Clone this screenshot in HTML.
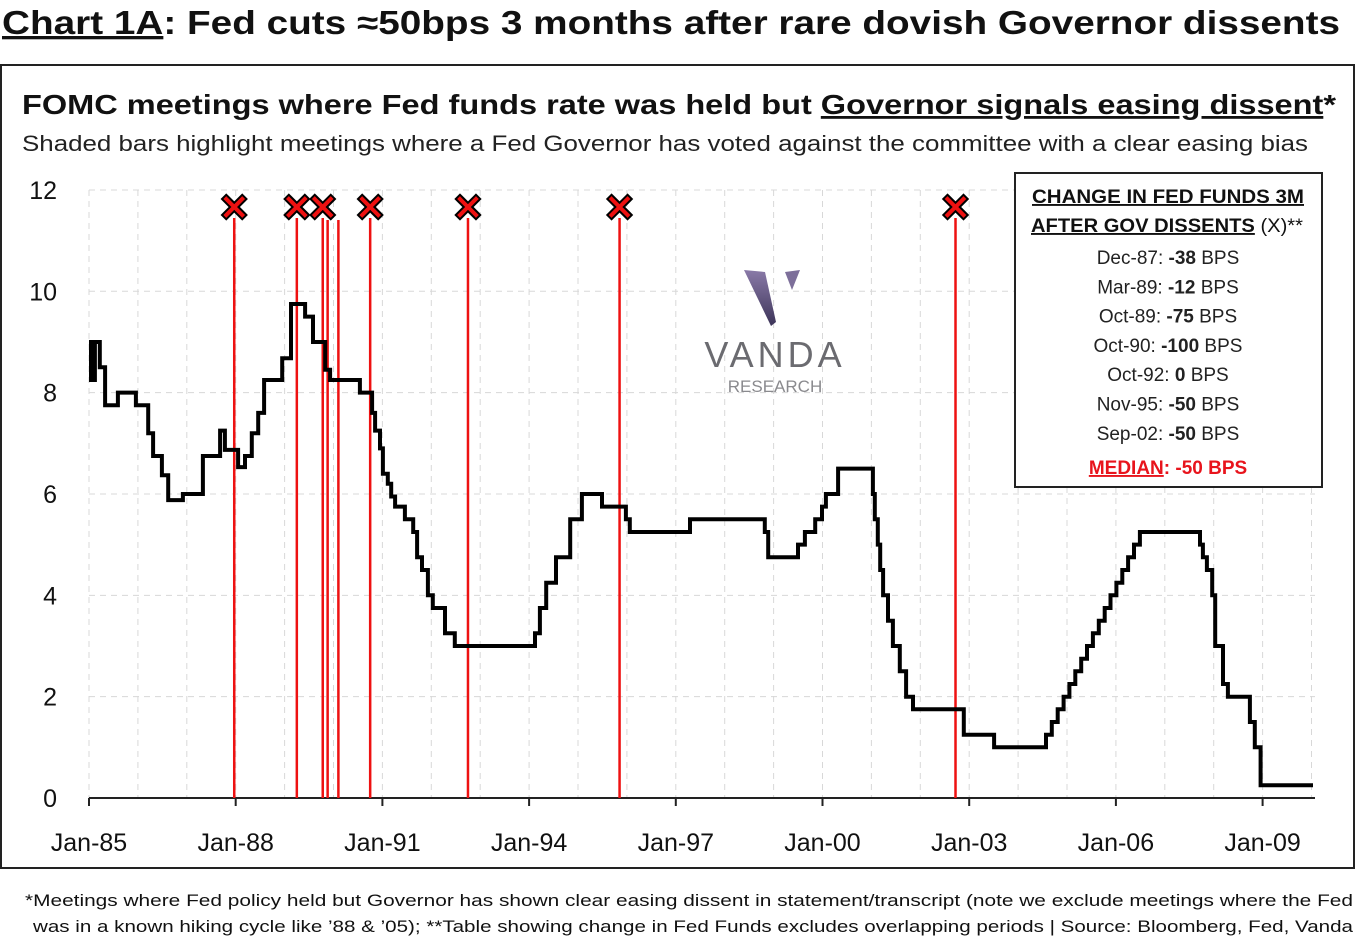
<!DOCTYPE html>
<html><head><meta charset="utf-8"><style>
html,body{margin:0;padding:0;background:#fff;}
svg{display:block;font-family:"Liberation Sans",sans-serif;}
</style></head><body>
<svg id="chart" width="1360" height="938" viewBox="0 0 1360 938">
<text x="2" y="34" font-size="33" font-weight="bold" fill="#111" textLength="1338" lengthAdjust="spacingAndGlyphs"><tspan text-decoration="underline">Chart 1A</tspan>: Fed cuts ≈50bps 3 months after rare dovish Governor dissents</text>
<rect x="1" y="65" width="1353" height="803" fill="none" stroke="#222" stroke-width="2"/>
<text x="22" y="114" font-size="28" font-weight="bold" fill="#111" textLength="1314" lengthAdjust="spacingAndGlyphs">FOMC meetings where Fed funds rate was held but <tspan text-decoration="underline">Governor signals easing dissent</tspan>*</text>
<text x="22" y="151" font-size="22" fill="#222" textLength="1286" lengthAdjust="spacingAndGlyphs">Shaded bars highlight meetings where a Fed Governor has voted against the committee with a clear easing bias</text>
<g id="grid"></g>
<g id="axes"></g>
<g id="dissents"></g>
<path id="rate-line" fill="none" stroke="#000" stroke-width="4" stroke-linejoin="miter"/>
<g id="markers"></g>
<g>
<defs><linearGradient id="vg" x1="0" y1="0" x2="0" y2="1"><stop offset="0" stop-color="#8a7aa8"/><stop offset="1" stop-color="#3c3458"/></linearGradient></defs>
<path d="M744 270 L765 272 L776 322 L771 326 Z" fill="url(#vg)"/>
<path d="M785 272 L800 270 L792 290 Z" fill="#7d6f9a"/>
<text x="775" y="367" font-size="36" fill="#6b6b70" text-anchor="middle" letter-spacing="4">VANDA</text>
<text x="775" y="392" font-size="17" fill="#8a8a8e" text-anchor="middle">RESEARCH</text>
</g>
<g>
<rect x="1015" y="173" width="307" height="314" fill="#fff" stroke="#222" stroke-width="2"/>
<text x="1168" y="203" font-size="19" font-weight="bold" text-anchor="middle" fill="#111" text-decoration="underline" textLength="272" lengthAdjust="spacingAndGlyphs">CHANGE IN FED FUNDS 3M</text>
<text x="1031" y="232" font-size="19" fill="#111" textLength="272" lengthAdjust="spacingAndGlyphs"><tspan font-weight="bold" text-decoration="underline">AFTER GOV DISSENTS</tspan> (X)**</text>
<g id="table-rows" font-size="19" fill="#222" text-anchor="middle"></g>
<text x="1168" y="474" font-size="19" font-weight="bold" text-anchor="middle" fill="#e8141c"><tspan text-decoration="underline">MEDIAN</tspan>: -50 BPS</text>
</g>
<text x="25" y="906" font-size="17" fill="#111" textLength="1328" lengthAdjust="spacingAndGlyphs">*Meetings where Fed policy held but Governor has shown clear easing dissent in statement/transcript (note we exclude meetings where the Fed</text>
<text x="33" y="932" font-size="17" fill="#111" textLength="1320" lengthAdjust="spacingAndGlyphs">was in a known hiking cycle like ’88 &amp; ’05); **Table showing change in Fed Funds excludes overlapping periods | Source: Bloomberg, Fed, Vanda</text>
</svg>
<script>
// ---- data ----
const yTicks = [0, 2, 4, 6, 8, 10, 12];
const xTickYears = [1985, 1988, 1991, 1994, 1997, 2000, 2003, 2006, 2009];
const xTickLabels = ["Jan-85","Jan-88","Jan-91","Jan-94","Jan-97","Jan-00","Jan-03","Jan-06","Jan-09"];
const stepDates = [1985.00,1985.04,1985.08,1985.12,1985.22,1985.33,1985.59,1985.96,1986.21,1986.31,1986.49,1986.62,1986.92,1987.33,1987.68,1987.78,1988.05,1988.19,1988.33,1988.46,1988.58,1988.95,1989.13,1989.42,1989.58,1989.83,1989.93,1990.54,1990.79,1990.85,1990.95,1991.01,1991.11,1991.18,1991.26,1991.46,1991.63,1991.71,1991.81,1991.93,1992.03,1992.28,1992.48,1992.65,1994.12,1994.22,1994.35,1994.55,1994.84,1995.08,1995.49,1995.98,1996.06,1997.29,1998.82,1998.89,1999.5,1999.64,1999.85,1999.99,2000.07,2000.32,
2001.03,2001.07,2001.13,2001.18,2001.24,2001.34,2001.44,2001.58,2001.71,2001.85,2002.89,2003.51,
2004.57,2004.69,2004.81,2004.93,2005.05,2005.17,2005.29,2005.41,2005.53,2005.65,2005.77,2005.89,2006.01,2006.13,2006.25,2006.37,2006.49,
2007.72,2007.78,2007.86,2007.97,2008.03,2008.19,2008.29,2008.74,2008.84,2008.96,2010.03];
const stepRates = [8.25,9.0,8.25,9.0,8.5,7.75,8.0,7.75,7.2,6.75,6.37,5.88,6.0,6.75,7.25,6.87,6.53,6.75,7.2,7.6,8.25,8.68,9.75,9.5,9.0,8.45,8.25,8.0,7.6,7.25,6.9,6.4,6.2,5.95,5.75,5.5,5.25,4.75,4.5,4.0,3.75,3.25,3.0,3.0,3.25,3.75,4.25,4.75,5.5,6.0,5.75,5.5,5.25,5.5,5.25,4.75,5.0,5.25,5.5,5.75,6.0,6.5,
6.0,5.5,5.0,4.5,4.0,3.5,3.0,2.5,2.0,1.75,1.25,1.0,
1.25,1.5,1.75,2.0,2.25,2.5,2.75,3.0,3.25,3.5,3.75,4.0,4.25,4.5,4.75,5.0,5.25,
5.0,4.75,4.5,4.0,3.0,2.25,2.0,1.5,1.0,0.25,0.25];
const dissentDates = [1987.97,1989.25,1989.78,1989.88,1990.1,1990.75,1992.75,1995.85,2002.72];
const dissentMarked = [true,true,true,false,false,true,true,true,true];
const tableLabels = ["Dec-87","Mar-89","Oct-89","Oct-90","Oct-92","Nov-95","Sep-02"];
const tableValues = ["-38","-12","-75","-100","0","-50","-50"];

// ---- scales ----
const x0 = 89, pxPerYear = 48.9, y0 = 798, pxPerUnit = 50.67;
const xs = yr => x0 + (yr - 1985) * pxPerYear;
const ys = v => y0 - v * pxPerUnit;
const NS = "http://www.w3.org/2000/svg";
function mk(tag, attrs, parent) {
  const e = document.createElementNS(NS, tag);
  for (const k in attrs) e.setAttribute(k, attrs[k]);
  parent.appendChild(e); return e;
}
const grid = document.getElementById('grid');
const axes = document.getElementById('axes');
for (let yr = 1985; yr <= 2010; yr++) {
  const l = mk('line', {x1: xs(yr), x2: xs(yr), y1: ys(12), y2: y0, stroke: '#d8d8d8', 'stroke-width': 1, 'stroke-dasharray': '6 5'}, grid);
  
  
}
yTicks.forEach(v => {
  if (v > 0) {
    const l = mk('line', {x1: x0, x2: 1315, y1: ys(v), y2: ys(v), stroke: '#d8d8d8', 'stroke-width': 1, 'stroke-dasharray': '6 5'}, grid);
    
    
  }
  const t = mk('text', {x: 57, y: ys(v) + 9, 'font-size': 25, 'text-anchor': 'end', fill: '#111'}, axes);
  t.textContent = v;
  
  
});
const ax = mk('line', {x1: x0, x2: 1315, y1: y0, y2: y0, stroke: '#222', 'stroke-width': 2}, axes);


xTickYears.forEach((yr, i) => {
  const tk = mk('line', {x1: xs(yr), x2: xs(yr), y1: y0, y2: y0 + 8, stroke: '#222', 'stroke-width': 2}, axes);
  
  
  const t = mk('text', {x: xs(yr), y: 851, 'font-size': 25, 'text-anchor': 'middle', fill: '#111'}, axes);
  t.textContent = xTickLabels[i];
  
  
});
const dg = document.getElementById('dissents');
const mg = document.getElementById('markers');
dissentDates.forEach((d, i) => {
  const x = xs(d);
  const l = mk('line', {x1: x, x2: x, y1: dissentMarked[i] ? 218 : 220, y2: y0, stroke: '#ee1111', 'stroke-width': 2.5}, dg);
  
  
  if (dissentMarked[i]) {
    const g = mk('g', {}, mg);
    
    
    const p = `M${x-8} ${199} L${x+8} ${215} M${x+8} ${199} L${x-8} ${215}`;
    mk('path', {d: p, stroke: '#000', 'stroke-width': 8, 'stroke-linecap': 'square'}, g);
    mk('path', {d: p, stroke: '#ee1111', 'stroke-width': 4, 'stroke-linecap': 'square'}, g);
  }
});
let d = `M${xs(stepDates[0])} ${ys(stepRates[0])}`;
for (let i = 1; i < stepDates.length; i++) {
  d += ` H${xs(stepDates[i]).toFixed(1)} V${ys(stepRates[i]).toFixed(1)}`;
}
document.getElementById('rate-line').setAttribute('d', d);
const tr = document.getElementById('table-rows');
tableLabels.forEach((lab, i) => {
  const t = mk('text', {x: 1168, y: 264 + i * 29.3}, tr);
  
  
  t.appendChild(document.createTextNode(lab + ': '));
  const b = mk('tspan', {'font-weight': 'bold'}, t);
  b.textContent = tableValues[i];
  t.appendChild(document.createTextNode(' BPS'));
});
</script>
</body></html>
